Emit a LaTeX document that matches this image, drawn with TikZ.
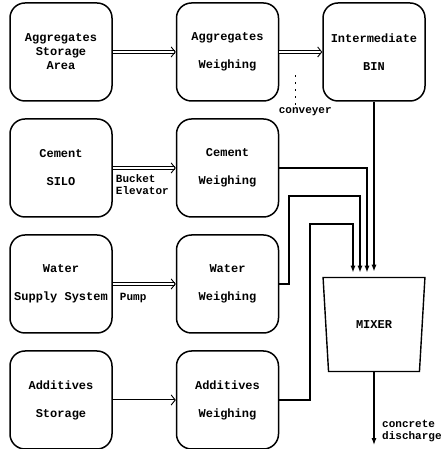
\documentclass[tikz,border=0pt]{standalone}
\usepackage{fontspec}
\newfontfamily\dotfont{Liberation Mono}
\usetikzlibrary{arrows.meta,positioning,shapes.geometric,calc}
\tikzset{
  unit/.style   = {rectangle, rounded corners=15pt, draw, line width=1.5pt, align=center,
                   font=\dotfont\bfseries\fontsize{12}{14}\selectfont, inner sep=2pt,
                   minimum width=102pt, minimum height=98pt},
  mixbox/.style = {trapezium, trapezium stretches=true, shape border rotate=180,
                   trapezium angle=80, draw, line width=1.4pt,
                   font=\dotfont\bfseries\fontsize{12}{14}\selectfont,
                   minimum width=102pt, minimum height=94pt},
  lbl/.style    = {align=left, inner sep=0pt, font=\dotfont\bfseries\fontsize{11}{12.5}\selectfont},
  pipe/.style   = {double, double distance=2pt, line width=0.8pt,
                   -{Straight Barb[length=4pt, width=10pt, line width=0.9pt]}},
  line/.style   = {line width=1pt, -{Straight Barb[length=4pt, width=10pt, line width=0.9pt]}},
  feed/.style   = {line width=2.4pt, shorten >=4pt, -{Latex[length=7pt, width=5pt]}},
  flow/.style   = {line width=1.4pt, -{Latex[length=7pt, width=5pt]}},
  leader/.style = {line width=0.5pt, dash pattern=on 2pt off 5pt},
}
\begin{document}
\begin{tikzpicture}[x=1pt, y=1pt]
    \useasboundingbox (0,0) rectangle (444,449);
    % sources
    \node[unit] (aggst) at (61,397) {Aggregates\\Storage\\Area};
    \node[unit, below=16.5pt of aggst] (cemsi) {Cement\\[14pt]SILO};
    \node[unit, below=16.5pt of cemsi] (watsu) {Water\\[14pt]Supply System};
    \node[unit, below=16.5pt of watsu] (addst) {Additives\\[14pt]Storage};
    % weighing
    \node[unit, right=63pt of aggst] (aggw) {Aggregates\\[14pt]Weighing};
    \node[unit, right=63pt of cemsi] (cemw) {Cement\\[14pt]Weighing};
    \node[unit, right=63pt of watsu] (watw) {Water\\[14pt]Weighing};
    \node[unit, right=63pt of addst] (addw) {Additives\\[14pt]Weighing};
    \node[unit, right=43pt of aggw] (bin) {Intermediate\\[14pt]BIN};
    \node[mixbox, below=175pt of bin] (mix) {MIXER};
    % transport
    \draw[pipe] (aggst) -- (aggw);
    \draw[pipe] (cemsi) -- (cemw);
    \draw[pipe] (watsu) -- (watw);
    \draw[line] (addst) -- (addw);
    \draw[pipe] (aggw) -- (bin);
    \node[lbl, anchor=north west] (buck) at ([xshift=3pt,yshift=-6pt]cemsi.east) {Bucket\\Elevator};
    \node[lbl, anchor=north west] (pump) at ([xshift=7pt,yshift=-9pt]watsu.east) {Pump};
    \node[lbl] (conv) at ([xshift=26pt,yshift=-60pt]aggw.east) {conveyer};
    \coordinate (convtop) at ([xshift=-10pt,yshift=36pt]conv.north);
    \draw[leader] ([xshift=-10pt,yshift=3pt]conv.north) -- (convtop);
    % into the mixer
    \draw[flow] (bin.south) -- ([yshift=5pt]bin.south |- mix.north);
    \draw[feed] (cemw.east) -| ([xshift=-7pt]mix.north);
    \draw[feed] (watw.east) -- ++(10pt,0) |- ([xshift=-14pt,yshift=81pt]mix.north) -- ([xshift=-14pt]mix.north);
    \draw[feed] (addw.east) -- ++(31pt,0) |- ([xshift=-21pt,yshift=53pt]mix.north) -- ([xshift=-21pt]mix.north);
    % discharge
    \coordinate (dis) at ([yshift=-73pt]mix.south);
    \draw[flow] (mix.south) -- (dis);
    \node[lbl, anchor=west] (dislbl) at ([xshift=8pt,yshift=-59pt]mix.south) {concrete\\discharge};
\end{tikzpicture}
\end{document}
